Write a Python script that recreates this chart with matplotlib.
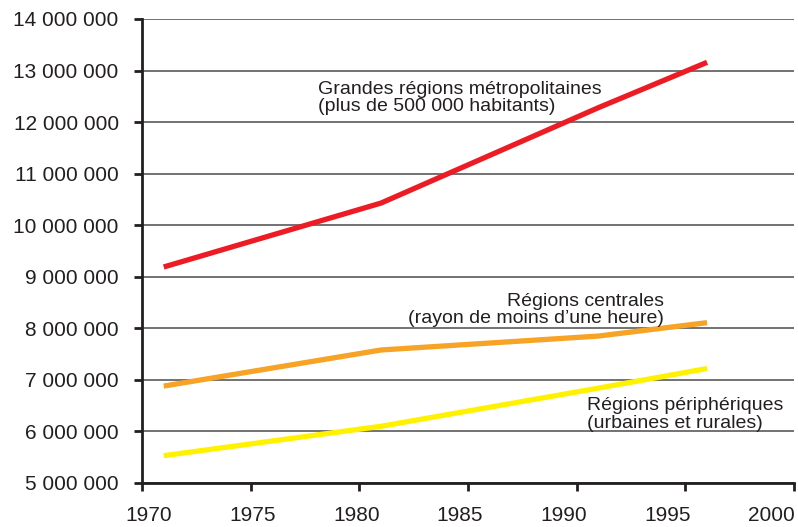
import matplotlib
matplotlib.use("Agg")
import matplotlib.pyplot as plt
from matplotlib.ticker import FuncFormatter, MultipleLocator
from matplotlib.transforms import ScaledTranslation

years = [1971, 1981, 1991, 1996]
metro = [9190000, 10430000, 12280000, 13160000]
centrales = [6880000, 7580000, 7850000, 8110000]
peripheriques = [5530000, 6100000, 6840000, 7220000]

x_ticks = [1970, 1975, 1980, 1985, 1990, 1995, 2000]

plt.rcParams['font.family'] = ['Liberation Sans', 'DejaVu Sans']

fig = plt.figure(figsize=(7.98, 5.27), dpi=100)
W, H = 798, 527
ax = fig.add_axes([142 / W, 1 - 483 / H, (794 - 142) / W, (483 - 19) / H])

ax.set_xlim(1970, 2000)
ax.set_ylim(5000000, 14000000)
ax.yaxis.set_major_locator(MultipleLocator(1000000))
ax.set_xticks(x_ticks)
ax.yaxis.set_major_formatter(FuncFormatter(lambda v, p: f"{int(v):,}".replace(",", " ")))

ax.grid(axis='y', color='#5a5a5a', linewidth=1.2)
ax.set_axisbelow(True)
for s in ['top', 'right']:
    ax.spines[s].set_visible(False)
for s in ['left', 'bottom']:
    ax.spines[s].set_linewidth(2)
    ax.spines[s].set_color('#231f20')
ax.tick_params(axis='both', direction='out', length=6, width=2, color='#231f20',
               labelsize=15, labelcolor='#231f20')
ax.tick_params(axis='y', pad=10.8)
ax.tick_params(axis='x', pad=10.5)

# the reference's year labels drift slightly left of their ticks
x_label_shift_px = [6.5, 1.7, -3.1, -7.9, -12.7, -17.5, -22.3]
fig.canvas.draw()
for lab, dx in zip(ax.get_xticklabels(), x_label_shift_px):
    lab.set_transform(lab.get_transform() + ScaledTranslation(dx / 100, 0, fig.dpi_scale_trans))

lw = 3.8
ax.plot(years, metro, color='#ED1C24', linewidth=lw, solid_capstyle='butt')
ax.plot(years, centrales, color='#F7A325', linewidth=lw, solid_capstyle='butt')
ax.plot(years, peripheriques, color='#FFF200', linewidth=lw, solid_capstyle='butt')

fs = 14
ls = 1.02
ax.text(1978.10, 12800000, "Grandes régions métropolitaines\n(plus de 500 000 habitants)",
        fontsize=fs, color='#231f20', ha='left', va='top', linespacing=ls)
ax.text(1994.02, 8690000, "Régions centrales\n(rayon de moins d’une heure)",
        fontsize=fs, color='#231f20', ha='right', va='top', linespacing=ls, multialignment='right')
ax.text(1990.48, 6660000, "Régions périphériques\n(urbaines et rurales)",
        fontsize=fs, color='#231f20', ha='left', va='top', linespacing=ls)

fig.savefig("out.png", dpi=100)
